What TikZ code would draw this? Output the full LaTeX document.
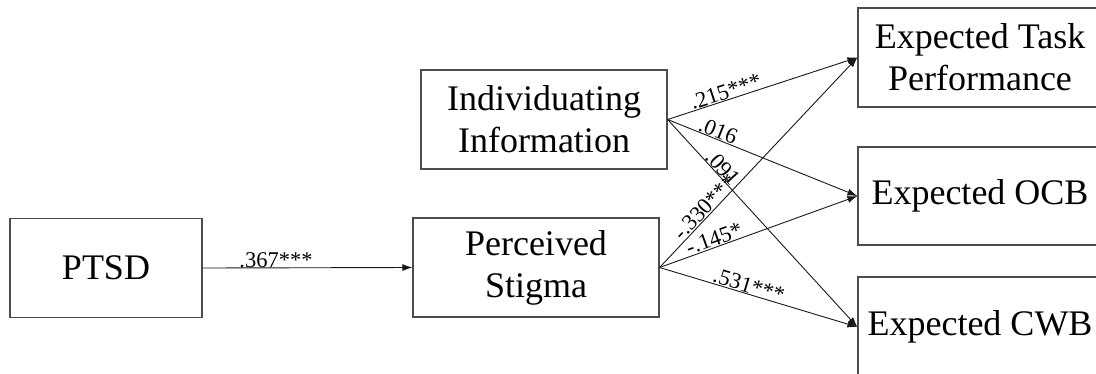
\documentclass[tikz,border=0pt]{standalone}
\usepackage{fontspec}
\setmainfont{Liberation Serif}
\usetikzlibrary{arrows.meta}
\begin{document}
\begin{tikzpicture}[x=1pt,y=1pt,
  box/.style={draw=black!70, line width=1.2pt, inner sep=0pt, align=center,
    font=\fontsize{36}{42}\selectfont},
  arr/.style={draw=black!90, line width=0.9pt, -{Latex[length=10pt,width=7pt]}},
  lab/.style={font=\fontsize{22.5}{26}\selectfont, inner sep=0.5pt, sloped, above}]
\clip (0,0) rectangle (1096,-373);
\fill[white] (0,0) rectangle (1096,-373);
\node[box, minimum width=192pt, minimum height=99pt] (ptsd) at (106,-268) {PTSD};
\node[box, minimum width=246pt, minimum height=99pt] (stigma) at (536,-267.5) {Perceived\\Stigma};
\node[box, minimum width=246pt, minimum height=99pt] (indiv) at (544,-119.5) {Individuating\\Information};
\node[box, minimum width=244pt, minimum height=99pt] (task) at (980,-57.5) {Expected Task\\Performance};
\node[box, minimum width=244pt, minimum height=98pt] (ocb) at (980,-196) {Expected OCB};
\node[box, minimum width=244pt, minimum height=100pt] (cwb) at (980,-327) {Expected CWB};
\draw[arr] (ptsd.east) -- node[pos=0.35, above, inner sep=0pt, font=\fontsize{22.5}{26}\selectfont] {.367***} (stigma.west);
\draw[arr] (indiv.east) -- node[lab, pos=0.32] {.215***} (task.west);
\draw[arr] (indiv.east) -- node[lab, pos=0.25] {.016} (ocb.west);
\draw[arr] (indiv.east) -- node[lab, pos=0.26] {.091} (cwb.west);
\draw[arr] (stigma.east) -- node[lab, pos=0.26] {-.330***} (task.west);
\draw[arr] (stigma.east) -- node[lab, pos=0.29] {-.145*} (ocb.west);
\draw[arr] (stigma.east) -- node[lab, pos=0.44] {.531***} (cwb.west);
\end{tikzpicture}
\end{document}
